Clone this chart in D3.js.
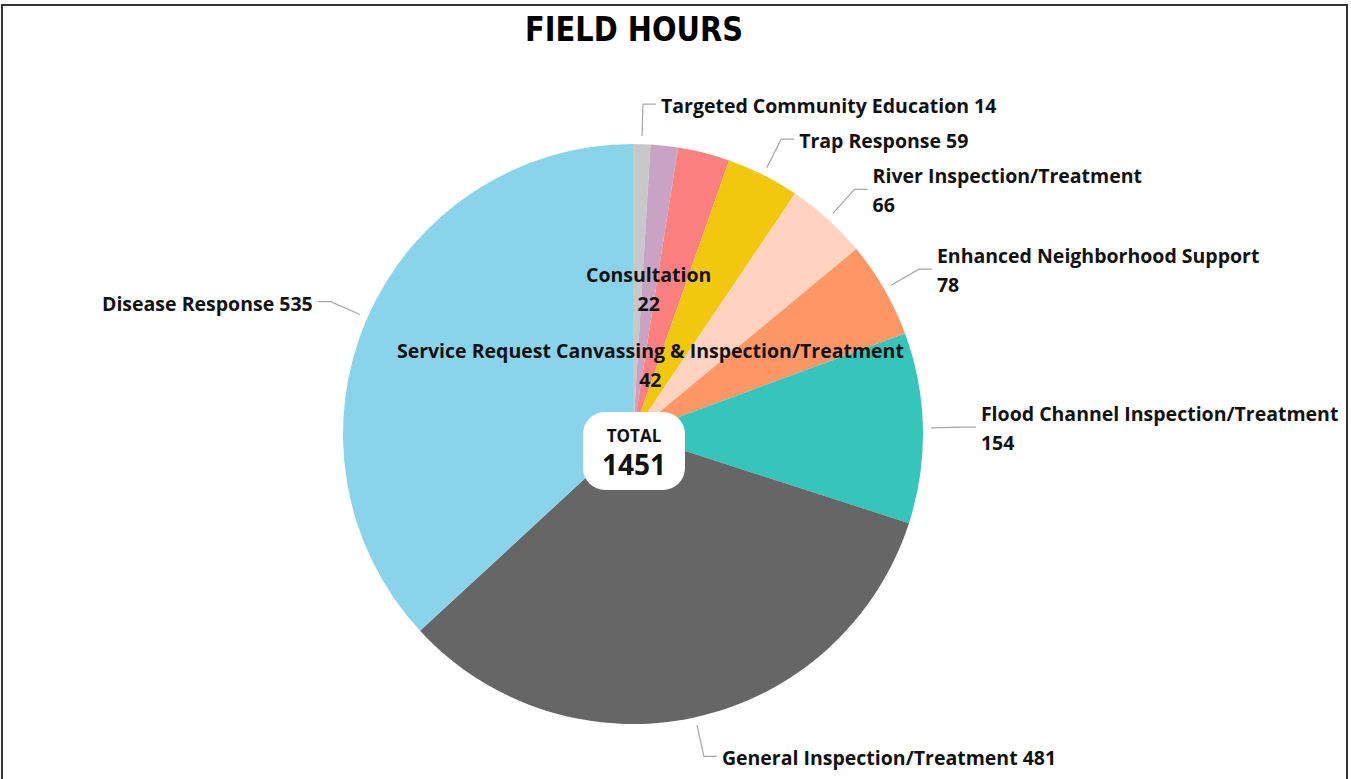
<!DOCTYPE html>
<html>
<head>
<meta charset="utf-8">
<script src="https://cdn.jsdelivr.net/npm/d3@7"></script>
<style>
  body { margin: 0; background: #fff; }
  svg { display: block; }
</style>
</head>
<body>
<div id="chart"></div>
<script>
// data
const categories = [
  "Targeted Community Education",
  "Consultation",
  "Service Request Canvassing & Inspection/Treatment",
  "Trap Response",
  "River Inspection/Treatment",
  "Enhanced Neighborhood Support",
  "Flood Channel Inspection/Treatment",
  "General Inspection/Treatment",
  "Disease Response"
];
const hours = [14, 22, 42, 59, 66, 78, 154, 481, 535];
const sliceColors = ["#c8c8c8", "#c9a3c4", "#fd8080", "#f2c80f", "#ffd3c0", "#fe9666", "#35c5bb", "#666666", "#8ad4eb"];
// how each label is shown: one line or two lines, outside or inside
const labelMode = ["one", "in", "in", "one", "two", "two", "two", "one", "one"];

const width = 1351, height = 779;
const cx = 633, cy = 434, R = 290;

const svg = d3.select("#chart").append("svg")
    .attr("width", width)
    .attr("height", height);

// frame
svg.append("rect")
    .attr("x", 2).attr("y", 5)
    .attr("width", 1345).attr("height", 790)
    .attr("fill", "none")
    .attr("stroke", "#333")
    .attr("stroke-width", 2);

// title
svg.append("text")
    .attr("x", 634)
    .attr("y", 41)
    .attr("text-anchor", "middle")
    .attr("font-family", "'DejaVu Sans Condensed', 'Open Sans', sans-serif")
    .attr("font-weight", "bold")
    .attr("font-size", "34px")
    .attr("textLength", 218)
    .attr("lengthAdjust", "spacingAndGlyphs")
    .attr("fill", "#000")
    .text("FIELD HOURS");

const rows = categories.map((c, i) => ({name: c, value: hours[i], color: sliceColors[i], mode: labelMode[i]}));

const pie = d3.pie().sort(null).value(d => d.value);
const arcs = pie(rows);

const arc = d3.arc().innerRadius(0).outerRadius(R);

const g = svg.append("g").attr("transform", `translate(${cx},${cy})`);

g.selectAll("path.slice")
  .data(arcs)
  .join("path")
    .attr("class", "slice")
    .attr("d", arc)
    .attr("fill", d => d.data.color);

const font = "'Open Sans', 'Noto Sans', sans-serif";
const fs = 19.5;
const lineGap = 29;

// point at radius r along middle angle of a slice
function polar(a, r) {
  return [r * Math.sin(a), -r * Math.cos(a)];
}

// outside labels with leader lines
const outside = arcs.filter(d => d.data.mode !== "in");
outside.forEach(d => {
  const a = (d.startAngle + d.endAngle) / 2;
  const p0 = polar(a, R + 8);
  const p1 = polar(a, R + 40);
  const right = Math.sin(a) >= 0;
  const dir = right ? 1 : -1;
  const p2 = [p1[0] + dir * 13, p1[1]];

  g.append("polyline")
    .attr("points", [p0, p1, p2].map(p => p.join(",")).join(" "))
    .attr("fill", "none")
    .attr("stroke", "#a6a6a6")
    .attr("stroke-width", 1.2);

  const t = g.append("text")
    .attr("x", p2[0] + dir * 5)
    .attr("y", p1[1])
    .attr("text-anchor", right ? "start" : "end")
    .attr("font-family", font)
    .attr("font-weight", "bold")
    .attr("font-size", fs + "px")
    .attr("fill", "#111");

  if (d.data.mode === "two") {
    t.append("tspan").attr("x", p2[0] + dir * 5).attr("dy", -lineGap / 2 + 8).text(d.data.name);
    t.append("tspan").attr("x", p2[0] + dir * 5).attr("dy", lineGap).text(d.data.value);
  } else {
    t.attr("dy", "0.45em").text(d.data.name + " " + d.data.value);
  }
});

// inside labels, pushed to different radii so they do not overlap
const insideRadius = {"Consultation": 0.5, "Service Request Canvassing & Inspection/Treatment": 0.245};
arcs.filter(d => d.data.mode === "in").forEach(d => {
  const a = (d.startAngle + d.endAngle) / 2;
  const p = polar(a, R * insideRadius[d.data.name]);
  const t = g.append("text")
    .attr("text-anchor", "middle")
    .attr("font-family", font)
    .attr("font-weight", "bold")
    .attr("font-size", fs + "px")
    .attr("fill", "#111");
  t.append("tspan").attr("x", p[0]).attr("y", p[1] - lineGap / 2 + 7).text(d.data.name);
  t.append("tspan").attr("x", p[0]).attr("y", p[1] + lineGap / 2 + 7).text(d.data.value);
});

// total badge in the middle
const total = d3.sum(hours);
const badge = g.append("g").attr("transform", "translate(1,17)");
badge.append("rect")
    .attr("x", -51).attr("y", -39)
    .attr("width", 102).attr("height", 78)
    .attr("rx", 22)
    .attr("fill", "#fff");
badge.append("text")
    .attr("y", -9)
    .attr("text-anchor", "middle")
    .attr("font-family", font)
    .attr("font-weight", "bold")
    .attr("font-size", "17px")
    .attr("fill", "#111")
    .text("TOTAL");
badge.append("text")
    .attr("y", 24)
    .attr("text-anchor", "middle")
    .attr("font-family", font)
    .attr("font-weight", "bold")
    .attr("font-size", "28px")
    .attr("fill", "#111")
    .text(total);
</script>
</body>
</html>
